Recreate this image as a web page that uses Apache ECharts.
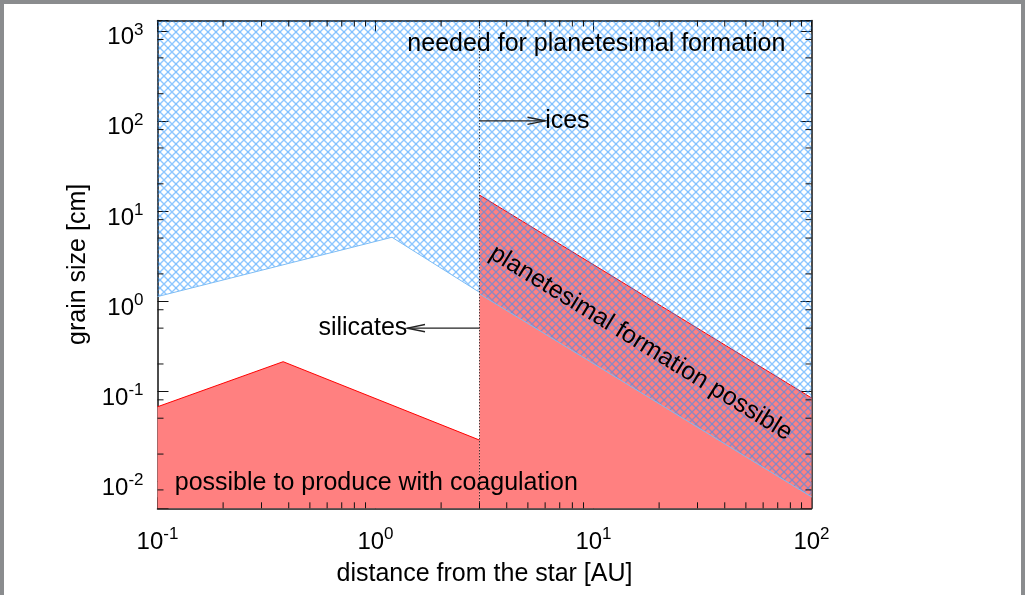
<!DOCTYPE html>
<html>
<head>
<meta charset="utf-8">
<script src="https://cdn.jsdelivr.net/npm/echarts@6/dist/echarts.min.js"></script>
<style>
	html, body { margin: 0; padding: 0; background: #fff; }
	#chart { width: 1025px; height: 595px; }
</style>
</head>
<body>
<div id="chart"></div>
<script>
	// boundaries, [distance AU, grain size cm]
	var innerNeeded = [[0.1, 1.12], [1.19, 5.1], [3, 1.25]];
	var innerCoag = [[0.1, 0.067], [0.377, 0.212], [3, 0.0286]];
	var outerCoag = [[3, 15], [100, 0.084]];
	var outerNeeded = [[3, 1.2], [100, 0.0067]];
	var snowLine = [[3, 0.005], [3, 1300]];

	// arrows [x1, y1, x2, y2]
	var arrows = [[3, 100, 6, 100], [3, 0.5, 1.4, 0.5]];

	// annotations
	var noteText = ['needed for planetesimal formation', 'ices', 'silicates',
		'possible to produce with coagulation', 'planetesimal formation possible'];
	var notePos = [[1.4, 720], [6, 100], [1.4, 0.5], [0.12, 0.0095], [16.5, 0.341]];

	// minor ticks
	var xMinor = [0.2, 0.3, 0.4, 0.5, 0.6, 0.7, 0.8, 0.9, 2, 3, 4, 5, 6, 7, 8, 9,
		20, 30, 40, 50, 60, 70, 80, 90];
	var yMinor = [0.008, 0.02, 0.05, 0.08, 0.2, 0.5, 0.8, 2, 5, 8, 20, 50, 80, 200, 500, 800];

	var X_MIN = 0.1, X_MAX = 100, Y_MIN = 0.005, Y_MAX = 1300;
	var FONT = '"Liberation Sans", Arial, Helvetica, sans-serif';

	// blue cross hatch
	var hatch = document.createElement('canvas');
	var s = 8;
	hatch.width = s;
	hatch.height = s;
	var hc = hatch.getContext('2d');
	hc.strokeStyle = 'rgba(30,144,255,0.5)';
	hc.lineWidth = 1.4;
	for (var k = -1; k <= 1; k++) {
		hc.beginPath();
		hc.moveTo(k * s, 0);
		hc.lineTo(k * s + s, s);
		hc.moveTo(k * s, s);
		hc.lineTo(k * s + s, 0);
		hc.stroke();
	}
	var hatchFill = { image: hatch, repeat: 'repeat' };

	function powLabel(v) {
		var e = Math.log10(v);
		var r = Math.round(e);
		if (Math.abs(e - r) > 1e-6) return '';
		return '{b|10}{s|' + r + '}';
	}
	var rich = {
		b: { fontSize: 24, lineHeight: 32, fontFamily: FONT, color: '#000' },
		s: { fontSize: 17, lineHeight: 17, verticalAlign: 'top', fontFamily: FONT, color: '#000' }
	};
	var axisLine = { show: true, lineStyle: { color: '#111', width: 1.5 } };
	var majorTick = { show: true, inside: true, length: 11, lineStyle: { color: '#111', width: 1 } };

	var chart = echarts.init(document.getElementById('chart'));
	chart.setOption({
		animation: false,
		backgroundColor: '#fff',
		graphic: [
			{ type: 'rect', shape: { x: 0, y: 0, width: 4, height: 595 }, style: { fill: '#8a8c8e' } },
			{ type: 'rect', shape: { x: 0, y: 0, width: 1025, height: 4 }, style: { fill: '#8a8c8e' } },
			{ type: 'rect', shape: { x: 1021, y: 0, width: 4, height: 595 }, style: { fill: '#8a8c8e' } }
		],
		grid: { left: 157.5, right: 213.5, top: 20.5, bottom: 86.7 },
		xAxis: [
			{
				type: 'log', min: X_MIN, max: X_MAX,
				name: 'distance from the star [AU]', nameLocation: 'middle', nameGap: 53,
				nameTextStyle: { fontSize: 25, fontFamily: FONT, color: '#000' },
				axisLine: axisLine, axisTick: majorTick, splitLine: { show: false },
				axisLabel: { margin: 18, fontSize: 24, fontFamily: FONT, color: '#000', formatter: powLabel, rich: rich }
			},
			{
				type: 'log', min: X_MIN, max: X_MAX, position: 'top',
				axisLine: axisLine, axisTick: majorTick, splitLine: { show: false },
				axisLabel: { show: false }
			}
		],
		yAxis: [
			{
				type: 'log', min: Y_MIN, max: Y_MAX,
				name: 'grain size [cm]', nameLocation: 'middle', nameGap: 64,
				nameTextStyle: { fontSize: 25, fontFamily: FONT, color: '#000' },
				axisLine: axisLine, axisTick: majorTick, splitLine: { show: false },
				axisLabel: { margin: 14, padding: [14, 0, 0, 0], fontSize: 24, fontFamily: FONT, color: '#000', formatter: powLabel, rich: rich }
			},
			{
				type: 'log', min: Y_MIN, max: Y_MAX, position: 'right',
				axisLine: axisLine, axisTick: majorTick, splitLine: { show: false },
				axisLabel: { show: false }
			}
		],
		series: [
			{
				type: 'line', data: innerCoag, symbol: 'none', z: 2,
				lineStyle: { color: '#ff0000', width: 1 },
				areaStyle: { color: '#ff8080', origin: 'start', opacity: 1 }
			},
			{
				type: 'line', data: outerCoag, symbol: 'none', z: 2,
				lineStyle: { color: '#ff0000', width: 1 },
				areaStyle: { color: '#ff8080', origin: 'start', opacity: 1 }
			},
			{
				type: 'line', data: innerNeeded, symbol: 'none', z: 3,
				lineStyle: { color: '#7dbcf4', width: 1 },
				areaStyle: { color: hatchFill, origin: 'end', opacity: 1 }
			},
			{
				type: 'line', data: outerNeeded, symbol: 'none', z: 3,
				lineStyle: { color: '#7dbcf4', width: 1 },
				areaStyle: { color: hatchFill, origin: 'end', opacity: 1 }
			},
			{
				type: 'line', data: snowLine, symbol: 'none', z: 4,
				lineStyle: { color: '#000', width: 1, type: [1, 2] }
			},
			{
				// arrows with open heads
				type: 'custom', z: 5, data: arrows, encode: { x: [0, 2], y: [1, 3] },
				renderItem: function (params, api) {
					var p1 = api.coord([api.value(0), api.value(1)]);
					var p2 = api.coord([api.value(2), api.value(3)]);
					var a = Math.atan2(p2[1] - p1[1], p2[0] - p1[0]);
					var L = 18, w = 0.2;
					var h1 = [p2[0] - L * Math.cos(a - w), p2[1] - L * Math.sin(a - w)];
					var h2 = [p2[0] - L * Math.cos(a + w), p2[1] - L * Math.sin(a + w)];
					var st = { stroke: '#222', lineWidth: 1.4 };
					return {
						type: 'group', children: [
							{ type: 'line', shape: { x1: p1[0], y1: p1[1], x2: p2[0], y2: p2[1] }, style: st },
							{ type: 'polyline', shape: { points: [h1, p2, h2] }, style: { stroke: '#222', lineWidth: 1.4, fill: null } }
						]
					};
				}
			},
			{
				// text labels
				type: 'custom', z: 6, data: notePos, encode: { x: 0, y: 1 },
				renderItem: function (params, api) {
					var i = params.dataIndex;
					var p = api.coord([api.value(0), api.value(1)]);
					var align = i === 2 ? 'right' : (i === 4 ? 'center' : 'left');
					return {
						type: 'text', x: p[0], y: p[1], rotation: i === 4 ? -0.5515 : 0,
						style: {
							text: noteText[i], fill: '#000', fontSize: 25, fontFamily: FONT,
							align: align, verticalAlign: 'middle'
						}
					};
				}
			},
			{
				// minor ticks on all four sides
				type: 'custom', z: 7, data: [[1, 1]], encode: { x: 0, y: 1 }, clip: false,
				renderItem: function (params, api) {
					var kids = [];
					var st = { stroke: '#111', lineWidth: 1 };
					xMinor.forEach(function (v) {
						var b = api.coord([v, Y_MIN]), t = api.coord([v, Y_MAX]);
						kids.push({ type: 'line', shape: { x1: b[0], y1: b[1], x2: b[0], y2: b[1] - 6 }, style: st });
						kids.push({ type: 'line', shape: { x1: t[0], y1: t[1], x2: t[0], y2: t[1] + 6 }, style: st });
					});
					yMinor.forEach(function (v) {
						var l = api.coord([X_MIN, v]), r = api.coord([X_MAX, v]);
						kids.push({ type: 'line', shape: { x1: l[0], y1: l[1], x2: l[0] + 6, y2: l[1] }, style: st });
						kids.push({ type: 'line', shape: { x1: r[0], y1: r[1], x2: r[0] - 6, y2: r[1] }, style: st });
					});
					return { type: 'group', children: kids };
				}
			}
		]
	});
</script>
</body>
</html>
